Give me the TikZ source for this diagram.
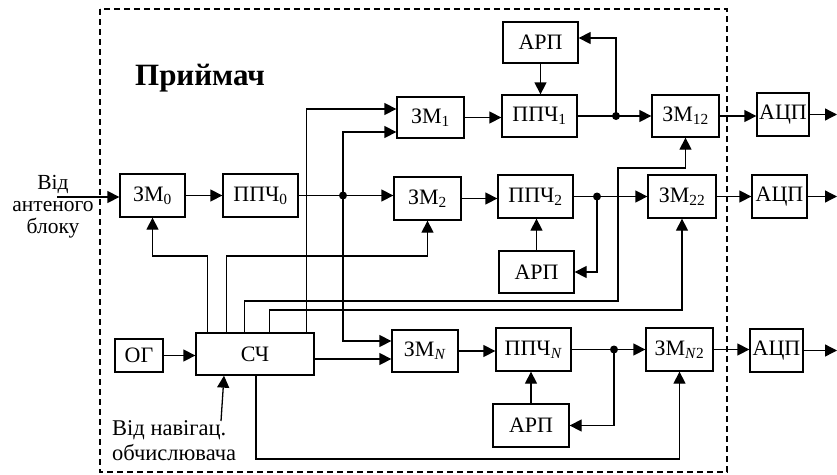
\documentclass[tikz,border=0pt]{standalone}
\usepackage{fontspec}
\setmainfont{Liberation Serif}
\usetikzlibrary{arrows.meta}
\begin{document}
\begin{tikzpicture}[x=1pt,y=-1pt,
  blk/.style={draw, line width=1.3pt, minimum height=42pt, inner sep=0pt, font=\fontsize{22}{24}\selectfont},
  arr/.style={line width=1.3pt, -{Triangle[length=12pt,width=12pt]}},
  txt/.style={inner sep=0pt, font=\fontsize{21.5}{22}\selectfont},
  dot/.style={circle, fill, inner sep=0pt, minimum size=8pt}
  ]
\useasboundingbox (0,0) rectangle (837,474);
\draw[line width=1.6pt, dash pattern=on 6pt off 4pt] (100,9) rectangle (727,472);

\node[font=\bfseries\fontsize{31}{33}\selectfont, inner sep=0pt] (title) at (200,78) {Приймач};

% blocks
\node[blk,minimum width=65pt,minimum height=43pt] (zm0) at (152.5,195.5) {ЗМ\textsubscript{0}};
\node[blk,minimum width=75pt,minimum height=43pt] (pp0) at (260.5,195.5) {ППЧ\textsubscript{0}};
\node[blk,minimum width=67pt,minimum height=41pt] (zm1) at (430.5,117.5) {ЗМ\textsubscript{1}};
\node[blk,minimum width=75pt] (pp1) at (539.5,116) {ППЧ\textsubscript{1}};
\node[blk,minimum width=75pt,minimum height=41pt] (arp1) at (540.5,42.5) {АРП};
\node[blk,minimum width=67pt] (zm12) at (685.5,116) {ЗМ\textsubscript{12}};
\node[blk,minimum width=52pt,minimum height=43pt] (adc1) at (783,114.5) {АЦП};
\node[blk,minimum width=67pt,minimum height=43pt] (zm2) at (427.5,198.5) {ЗМ\textsubscript{2}};
\node[blk,minimum width=75pt,minimum height=43pt] (pp2) at (535.5,196.5) {ППЧ\textsubscript{2}};
\node[blk,minimum width=75pt] (arp2) at (536.5,272) {АРП};
\node[blk,minimum width=68pt,minimum height=43pt] (zm22) at (682,196.5) {ЗМ\textsubscript{22}};
\node[blk,minimum width=55pt,minimum height=43pt] (adc2) at (779.5,196.5) {АЦП};
\node[blk,minimum width=48pt,minimum height=33pt] (og) at (139,355.5) {ОГ};
\node[blk,minimum width=118pt] (sch) at (255,354) {СЧ};
\node[blk,minimum width=66pt] (zmN) at (425,351) {ЗМ\textsubscript{\textit{N}}};
\node[blk,minimum width=75pt,minimum height=43pt] (ppN) at (533.5,349.5) {ППЧ\textsubscript{\textit{N}}};
\node[blk,minimum width=76pt,minimum height=43pt] (arpN) at (531,425.5) {АРП};
\node[blk,minimum width=67pt,minimum height=43pt] (zmN2) at (679.5,349.5) {ЗМ\textsubscript{\textit{N}2}};
\node[blk,minimum width=53pt,minimum height=43pt] (adcN) at (776.5,350.5) {АЦП};

% texts
\node[txt, align=center] (src) at (53,207) {Від\\антеного\\блоку};
\node[txt, align=left, anchor=west, font=\fontsize{22.5}{25}\selectfont] (navt) at (112,440.5) {Від навігац.\\обчислювача};

% helper levels
\coordinate (h38) at (0,38);
\coordinate (h109) at (0,109);
\coordinate (h132) at (0,132);
\coordinate (h168) at (0,168);
\coordinate (h256) at (0,256);
\coordinate (h301) at (0,301);
\coordinate (v618) at (618,0);
\coordinate (h310) at (0,310);
\coordinate (h341) at (0,341);
\coordinate (h359) at (0,359);
\coordinate (h459) at (0,459);
\coordinate (in) at (57,197);
\coordinate (nav) at (221,421);
\coordinate (d0) at (343,195.5);
\coordinate (d1) at (616,116);
\coordinate (d2) at (597,196.5);
\coordinate (dN) at (614,349.5);
\coordinate (o1) at (837,114.5);
\coordinate (o2) at (837,196.5);
\coordinate (oN) at (837,350.5);

% input side
\draw[arr] (in) -- (in -| zm0.west);
\draw[arr] (zm0.east) -- (zm0.east -| pp0.west);
\draw[arr] (pp0.east) -- (pp0.east -| zm2.west);
\draw[arr] (d0) |- (zm1.west |- h132);
\draw[arr] (d0) |- (zmN.west |- h341);
\node[dot] (n0) at (d0) {};

% synthesizer outputs
\draw[arr] ([xshift=12pt]sch.north west) |- (zm0.south |- h256) -- (zm0.south);
\draw[arr] ([xshift=31pt]sch.north west) |- (zm2.south |- h256) -- (zm2.south);
\draw[arr] ([xshift=49pt]sch.north west) |- (v618 |- h301) |- (zm12.south |- h168) -- (zm12.south);
\draw[arr] ([xshift=74pt]sch.north west) |- (zm22.south |- h310) -- (zm22.south);
\draw[arr] ([xshift=111pt]sch.north west) |- (zm1.west |- h109);
\draw[arr] (sch.east |- h359) -- (zmN.west |- h359);
\draw[arr] ([xshift=1pt]sch.south) |- (zmN2.south |- h459) -- (zmN2.south);
\draw[arr] (og.east) -- (og.east -| sch.west);
\draw[arr] (nav) -- ([xshift=-31pt]sch.south);

% channel 1
\draw[arr] (zm1.east) -- (zm1.east -| pp1.west);
\draw[arr] (pp1.east) -- (pp1.east -| zm12.west);
\draw[arr] (d1) |- (arp1.east |- h38);
\draw[arr] (arp1.south) -- (arp1.south |- pp1.north);
\node[dot] (n1) at (d1) {};
\draw[arr] (zm12.east) -- (zm12.east -| adc1.west);
\draw[arr] (adc1.east) -- (o1);

% channel 2
\draw[arr] (zm2.east) -- (zm2.east -| pp2.west);
\draw[arr] (pp2.east) -- (pp2.east -| zm22.west);
\draw[arr] (d2) |- (arp2.east);
\draw[arr] (arp2.north) -- (arp2.north |- pp2.south);
\node[dot] (n2) at (d2) {};
\draw[arr] (zm22.east) -- (zm22.east -| adc2.west);
\draw[arr] (adc2.east) -- (o2);

% channel N
\draw[arr] (zmN.east) -- (zmN.east -| ppN.west);
\draw[arr] (ppN.east) -- (ppN.east -| zmN2.west);
\draw[arr] (dN) |- (arpN.east);
\draw[arr] (arpN.north) -- (arpN.north |- ppN.south);
\node[dot] (nN) at (dN) {};
\draw[arr] (zmN2.east) -- (zmN2.east -| adcN.west);
\draw[arr] (adcN.east) -- (oN);
\end{tikzpicture}
\end{document}
